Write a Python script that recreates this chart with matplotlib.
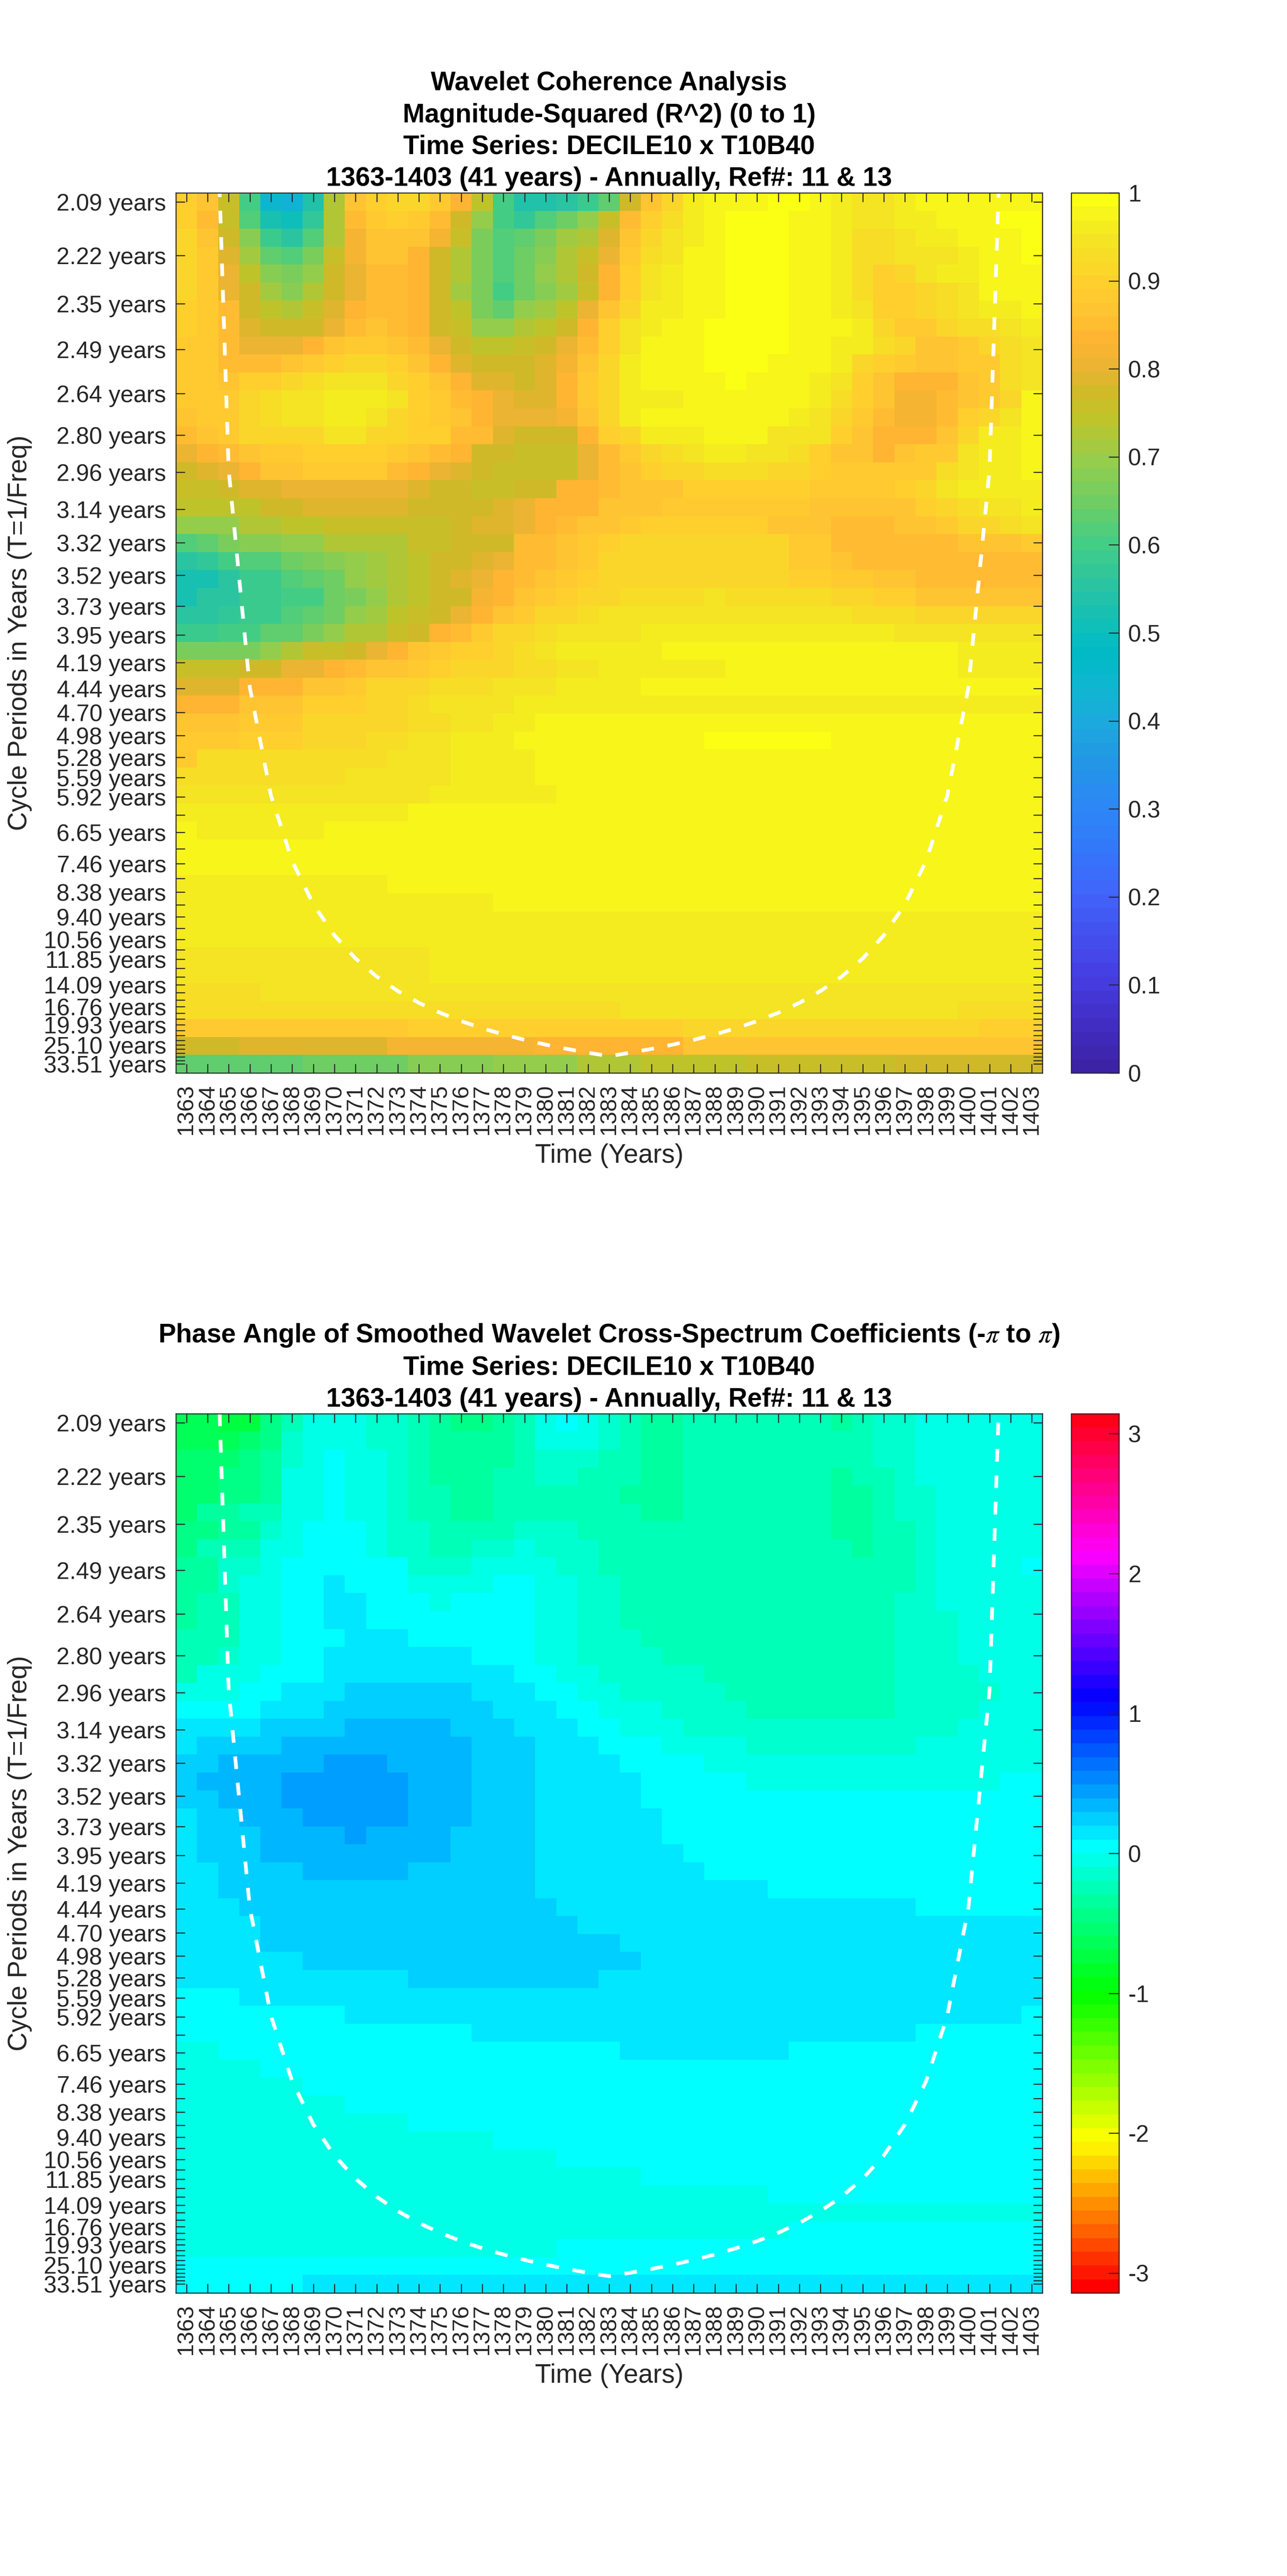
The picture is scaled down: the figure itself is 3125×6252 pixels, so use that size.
import numpy as np
import matplotlib
matplotlib.use("Agg")
import matplotlib.pyplot as plt
from matplotlib.colors import LinearSegmentedColormap, ListedColormap, hsv_to_rgb

plt.rcParams['font.family'] = ['Liberation Sans', 'DejaVu Sans']
plt.rcParams['mathtext.fontset'] = 'stix'

years = list(range(1363, 1404))
periods = [2.09,2.22,2.35,2.49,2.64,2.80,2.96,3.14,3.32,3.52,3.73,3.95,4.19,4.44,4.70,4.98,5.28,5.59,5.92,6.27,
           6.65,7.05,7.46,7.91,8.38,8.88,9.40,9.96,10.56,11.19,11.85,12.56,13.30,14.09,14.93,15.82,16.76,17.76,
           18.81,19.93,21.12,22.37,23.70,25.10,26.60,28.18,29.86,31.63,33.51]
unlabelled = [6.27,7.05,7.91,8.88,9.96,11.19,12.56,13.30,14.93,15.82,17.76,18.81,21.12,22.37,23.70,26.60,28.18,29.86,31.63]

coi_years = list(range(1364, 1403))
coi_period = [1.48,2.95,4.43,5.90,7.38,8.85,10.33,11.80,13.28,14.75,16.23,17.70,19.18,20.65,22.13,23.60,25.08,26.55,28.03,29.50,
              28.03,26.55,25.08,23.60,22.13,20.65,19.18,17.70,16.23,14.75,13.28,11.80,10.33,8.85,7.38,5.90,4.43,2.95,1.48]

# Coherence x100, one row per period (top to bottom), one value per year
coherence_pct = [
 [90,87,75,60,44,43,54,73,86,90,91,91,88,84,74,60,54,54,55,58,63,77, 87,92,96,97.5,97.5,98,100,100,97,96.5,95,95,96,97,98,98,98,98,98],
 [90,85,75,62,52,50,57,73,85,89,90,88,85,78,69,60,57,62,65,69,75,85, 90,93,96,97.5,100,100,100,98,97,95.5,94,94.5,96.5,96.5,98,98,98,100,100],
 [91,87,77,68,58,56,62,73,82,87,87,86,82,75,66,61,63,66,71,73,79,87, 92,94,96,97.5,100,100,100,98,97,95.5,92.5,93,94.5,96.5,96.5,98,98,98,100],
 [91,88,79,71,64,62,66,75,82,86,86,84,78,72,66,62,65,68,72,75,81,89, 92.5,94.5,97.5,97.5,100,100,100,98,97,95.5,92.5,92.5,94.5,95,95,96.5,98,98,100],
 [91,88,81,74,68,66,70,77,81,85,85,83,78,73,66,61,65,70,73,77,83,90, 94,96.5,97.5,98,100,100,100,98,97,95.5,92.5,90,92,94,95.5,96.5,97.5,98,98],
 [91,88,81,77,71,68,72,77,81,85,85,83,78,71,66,60,65,68,71,75,83,90, 94,96.5,97.5,98,100,100,100,98,98,95.5,92.5,90,90.5,92,93.5,94.5,97.5,98,98],
 [90,88,85,78,74,72,75,79,84,85,85,83,78,74,66,64,69,71,74,80,87,91, 95.5,96.5,97.5,98,100,100,100,98,98,95.5,94,90,90.5,92,93.5,94.5,96,96.5,97.5],
 [90,88,85,79,77,77,77,81,85,87,85,83,78,76,70,70,73,74,77,84,90,94, 95.5,98,98,100,100,100,100,98,98,97.5,95.5,91,89,89,91,92.5,93.5,94.5,95.5],
 [88,88,85,81,81,81,84,87,89,89,87,85,81,77,74,74,76,77,80,85,90,95, 97,98,98,100,100,100,100,98,97,96.5,95.5,93,91,87,87,89,91,93.5,94.5],
 [88,88,85,85,85,87,88,90,91,91,90,86,83,79,77,77,77,79,82,87,92,96.5, 97,98,98,100,100,100,98,98,97,95.5,92,90,88,87,87,88,89,92.5,94.5],
 [88,88,87,90,90,91,93,94,94,94,92,90,87,84,79,79,78,79,84,88,92,96.5, 97,98,98,98,100,98,98,98,95.5,95,90,86,84,84,84,87,89,92.5,94.5],
 [88,89,89,91,93,94,94,96,96,96,94,90,88,85,84,81,79,79,84,88,92,95.5, 95.5,96.5,98,98,98,98,98,97,95.5,93,90,86,82,82,85,87,89,92,97],
 [87,89,89,91,93,94,94.5,96.5,96.5,95,92,90,89,87,84,80,80,80,82,86,91,95.5, 97,97.5,97.5,98,98,98,97,96,95,92,89,85,82,82,85,90,92,94.5,97.5],
 [85,87,89,91,91,92,92,94,94,92,92,90,90,85,85,79,78,78,78,83,90,92, 95.5,95.5,95.5,97,97,97,95,94.5,94.5,90,87,84,84,84,87,92,95.5,96.5,97.5],
 [80,83,85,87,88,88,90,90,90,90,88,87,85,84,78,78,76,76,76,81,85,88, 92,93.5,94.5,95.5,95.5,94.5,94.5,93.5,90,87,87,84,87,89,89,94.5,95.5,96.5,97.5],
 [78,79,81,84,86,86,88,88,88,88,85,83,81,79,77,75,76,76,76,81,85,87, 90,91,91,93.5,93.5,93.5,92,92,90,87.5,87.5,87.5,87.5,89,93.5,94.5,95.5,96.5,97.5],
 [76,76,78,79,79,81,81,81,81,81,81,79,78,78,76,76,78,78,83,84,85,87, 87,87,90,90,90,90,90,90,89,89,87.5,87.5,90,92,94.5,95.5,96.5,96.5,96.5],
 [74,74,74,74,77,77,79,79,79,79,79,77,77,77,77,79,81,83,84,84,86,86, 86,88,88,88,88,88,88,88,87,87,87,87,87,90,92,93,94.5,94.5,95.5],
 [70,70,70,72,72,74,74,76,76,76,76,76,76,77,79,79,81,84,85,87,87,88, 90,90,90,90,90,90,87,87,87,85,85,85,87,87,89,91,92,93,94.5],
 [62,64,66,68,68,70,70,72,72,73,73,76,76,77,78,78,85,85,87,89,90,91]+[91]*7+[89,89]+[85]*6+[87]*3+[89],
 [55,57,60,61,62,65,66,68,70,71,73,74,77,77,79,81,85,85,87,89,91,91]+[91]*7+[89,89,87]+[85]*9,
 [52,53,56,58,59,62,63,65,70,71,73,74,78,79,81,83,85,87,89,90,91,92]+[91.5]*7+[90,90,89,89,87,87]+[85]*6,
 [53,55,55,58,59,60,60,65,67,69,72,74,77,78,82,84,87,89,90,91,92,93]+[93]*3+[94.5]+[93]*5+[91,91,90,90]+[87]*3+[86]*3,
 [55,55,57,59,59,62,63,65,69,71,74,76,78,80,84,86,89,91,92,93,94.5,94.5]+[94.5]*10+[93.5]*3+[92]*6,
 [59,59,60,60,63,64,66,70,72,73,75,78,83,85,89,91,91,93,94,95,95,95]+[95.5]*12+[94.5]*7,
 [67,67,67,67,70,72,75,76,78,80,83,86,88,90,90,92,93.5,94.5,95.5,95.5,96.5,96.5]+[96.5]+[97]*14+[96]*4,
 [76]*3+[77,78,80,81,84,85,86,87,89,90,91,92,92,93,93.5,94.5,94.5]+[95.5]*6+[97]*11+[96.5]*4,
 [79]*3+[84]*3+[86,86,88,91,91,92,93,93,93,94.5,94.5,94.5]+[95.5]*4+[97]*19,
 [83]*3+[86]*3+[90]*3+[91,92,93]+[94]*4+[95.5]*3+[96.5]*22,
 [87]*3+[88]*3+[91]*4+[92,93.5,93.5,94.5,94.5,96,96]+[97.5]*10+[98]*7+[97.5]*7,
 [88]*3+[90]*3+[91.5]*3+[92.5]*2+[94.5]*2+[96.5]*3+[98]*9+[100]*6+[98]*10,
 [89]+[92.5]*9+[94.5]*3+[96.5]*4+[97.5]*24,
 [93]*8+[94.5]*5+[96.5]*4+[97.5]*24,
 [94.5]*6+[95]*6+[96.5]*6+[97.5]*23,
 [95.5]*11+[97]*8+[97.5]*22,
 [97.5]+[95.5]*6+[97]*34,
 [97.5]*21+[98]*20,
 [97.5]*24+[98]*17,
 [95.5]*10+[97]*31,
 [95.5]*15+[97]*26,
 [95.5]*20+[96.5]*21,
 [95.5]*27+[96.5]*7+[95.5]*7,
 [94.5]*12+[95.5]*29,
 [94.5]*12+[95.5]*29,
 [93]*4+[94.5]*16+[95]*15+[94]*6,
 [92.5]*6+[93.5]*15+[94.5]*16+[93]*4,
 [88.5]+[89]*10+[90.5]*13+[91.5]*14+[90]*3,
 [77]*3+[79]*7+[82]*7+[84]*7+[86]*17,
 [63]*6+[65]*5+[68]*4+[70]*4+[72]*3+[74]*5+[76]*7+[77]*7,
]

# Phase read as colour-band offsets from the zero band (one band = 2*pi/64 rad)
phase_band = [
 [-7]*2+[-8]*2+[-5,-3]+[-1]*3+[-2]*2+[-3,-4]+[-5]*2+[-4,-3,-1,0,-1,-2,-3]+[-4]*2+[-3]*7+[-4,-3]+[-2]*2+[-1]*6,
 [-7]*3+[-6,-5,-2]+[-1]*3+[-2]*2+[-3]+[-4]*4+[-3,-1,-1,-1,-2,-3]+[-4]*2+[-3]*9+[-2]*2+[-1]*6,
 [-6]*3+[-5,-4,-2,-1,0]+[-1]*2+[-2,-3]+[-4]*4+[-3]+[-2]*3+[-3]*2+[-4]*2+[-3]*9+[-2]*2+[-1]*6,
 [-6]*2+[-5]*2+[-4]+[-1]*2+[0]+[-1]*2+[-2,-3]+[-4]*3+[-3]*2+[-2]*2+[-3]*3+[-4]*2+[-3]*7+[-4]+[-3]*2+[-2]+[-1]*6,
 [-6]*2+[-5]*2+[-4]+[-1]*2+[0]+[-1]*2+[-2]+[-3]*2+[-4]*2+[-3]*6+[-4]+[-4]*2+[-3]*7+[-4]*2+[-3]+[-2]*2+[-1]*5,
 [-6]+[-4]*2+[-3]*2+[-1]*2+[0]+[-1]*2+[-2]+[-3]*2+[-4]*2+[-3]*6+[-3]+[-4]*2+[-3]*7+[-4]*2+[-3]+[-2]*2+[-1]*5,
 [-5]*2+[-4]*2+[-2,-1]+[0]*3+[-1]+[-2]*2+[-3]*4+[-2]*3+[-3]*12+[-4]*2+[-3]*2+[-2]+[-1]*5,
 [-5]+[-3]*3+[-1]*2+[0]*3+[-1]+[-2]*2+[-3]*2+[-2]*2+[-1]+[-2]*3+[-3]*12+[-4]+[-3]*2+[-2]+[-1]*5,
 [-4]*2+[-2]*2+[-1]+[0]*6+[-2]*3+[-1]*4+[-2,-2]+[-3]*15+[-2]+[-1]*4+[0],
 [-4]*2+[-2]+[-1]*2+[0]*2+[1]+[0]*3+[-1]*4+[0]*2+[-1]*2+[-2]*2+[-3]*14+[-2]+[-1]*5,
 [-4]+[-3]*2+[-1]*2+[0]*2+[1]*2+[0]*3+[-1]+[0]*4+[-1]*2+[-2]*2+[-3]*13+[-2]*2+[-1]*5,
 [-4]+[-3]*2+[-1]*2+[0]*2+[1]*2+[0]*8+[-1]*2+[-2]*2+[-3]*13+[-2]*3+[-1]*4,
 [-3]*3+[-1]*2+[0]*3+[1]*3+[0]*6+[-1]*2+[-2]*3+[-3]*12+[-2]*3+[-1]*4,
 [-3]*2+[-2]+[-1]*2+[0]*2+[1]*7+[0]*3+[-1]*2+[-2]*4+[-3]*11+[-2]*3+[-1]*4,
 [-3]+[-1]*3+[0]*3+[1]*9+[0]*2+[-1]*2+[-2]*5+[-3]*9+[-2]*4+[-1]*3,
 [-1]*3+[0]*2+[1]*3+[2]*6+[1]*3+[0]*2+[-1]*2+[-2]*5+[-3]*8+[-2]*5+[-1]*2,
 [0]*4+[1]*3+[2]*8+[1]*3+[0]*2+[-1]*3+[-2]*4+[-3]*7+[-2]*4+[-1]*3,
 [1]*4+[2]*4+[3]*5+[2]*3+[1]*3+[0]*2+[-1]*3+[-2]*13+[-1]*4,
 [1]+[2]*4+[3]*9+[2]*3+[1]*3+[0]*3+[-1]*4+[-2]*8+[-1]*6,
 [2]*2+[3]*5+[4]*3+[3]*4+[2]*3+[1]*4+[0]*4+[-1]*16,
 [2]+[3]*4+[4]*6+[3]*3+[2]*3+[1]*5+[0]*5+[-1]*12+[0]*2,
 [2]*2+[3]*3+[4]*6+[3]*3+[2]*3+[1]*5+[0]*19,
 [1]+[2]*2+[3]*3+[4]*5+[3]*3+[2]*3+[1]*6+[0]*18,
 [1]+[2]*3+[3]*4+[4]+[3]*4+[2]*4+[1]*6+[0]*18,
 [1]+[2]*3+[3]*9+[2]*4+[1]*7+[0]*17,
 [1]*2+[2]*4+[3]*5+[2]*6+[1]*8+[0]*16,
 [1]*2+[2]*15+[1]*11+[0]*13,
 [1]*3+[2]*15+[1]*17+[0]*6,
 [1]*4+[2]*15+[1]*22,
 [1]*4+[2]*17+[1]*20,
 [1]*6+[2]*16+[1]*19,
 [1]*11+[2]*9+[1]*21,
 [0]*3+[1]*38,
 [0]*8+[1]*32+[0],
 [0]*14+[1]*21+[0]*6,
 [-1]*2+[0]*19+[1]*8+[0]*12,
 [-1]*4+[0]*37,
 [-1]*6+[0]*35,
 [-1]*8+[0]*33,
 [-1]*11+[0]*30,
 [-1]*15+[0]*26,
 [-1]*18+[0]*23,
 [-1]*22+[0]*19,
 [-1]*28+[0]*13,
 [-1]*41,
 [-1]*29+[0]*12,
 [-1]*18+[0]*23,
 [0]*41,
 [0]*6+[1]*35,
]

parula_anchor_pos = [0,.05,.1,.2,.25,.3,.35,.4,.45,.47,.5,.55,.6,.65,.7,.75,.78,.8,.84,.87,.905,.952,.968,.984,1]
parula_anchor_rgb = [(60,35,165),(65,45,195),(70,60,225),(65,100,250),(50,120,250),(45,135,245),(35,150,230),(28,170,220),
                     (10,185,205),(0,185,200),(10,190,190),(40,195,165),(65,205,135),(110,205,100),(150,205,75),(195,195,40),
                     (210,185,40),(230,180,50),(255,180,50),(255,195,50),(255,208,45),(244,228,36),(245,236,32),(247,245,27),(250,255,20)]
cmap_top = LinearSegmentedColormap.from_list('parula64', [(p, tuple(c/255 for c in rgb)) for p, rgb in zip(parula_anchor_pos, parula_anchor_rgb)], N=64)
cmap_phase = ListedColormap([hsv_to_rgb((k/64, 1, 1)) for k in range(64)])

W, H = 3125, 6252
GREY = '#262626'
fig = plt.figure(figsize=(W/100, H/100), dpi=100, facecolor='white')

TICK_FS, LABEL_FS = 40, 46
f0, fN = 1/periods[0], 1/periods[-1]
def period_to_row(T):
    return (len(periods)-1)*(f0-1/np.asarray(T, float))/(f0-fN)

def panel(top, bottom, data, cmap, vmin, vmax, title, cticks):
    ax = fig.add_axes([427/W, 1-bottom/H, 2104/W, (bottom-top)/H])
    im = ax.imshow(data, cmap=cmap, vmin=vmin, vmax=vmax, aspect='auto', interpolation='nearest',
                   extent=[years[0]-.5, years[-1]+.5, len(periods)-.5, -.5])
    ax.plot(coi_years, period_to_row(coi_period), color='white', lw=6.5, dashes=(3.4, 3.7), dash_capstyle='butt')
    ax.set_xlim(years[0]-.5, years[-1]+.5)
    ax.set_ylim(len(periods)-.5, -.5)
    ax.set_xticks(years)
    ax.set_xticklabels([str(y) for y in years], rotation=90, fontsize=TICK_FS, color=GREY)
    ax.set_yticks(period_to_row(periods))
    ax.set_yticklabels(['' if T in unlabelled else f'{T:.2f} years' for T in periods], fontsize=TICK_FS+1, color=GREY)
    ax.tick_params(axis='x', direction='in', length=16, width=1.8, top=True, pad=19, color=GREY)
    ax.tick_params(axis='y', direction='in', length=16, width=1.8, right=True, pad=17, color=GREY)
    for s in ax.spines.values():
        s.set_linewidth(1.8); s.set_color(GREY)
    ax.set_xlabel('Time (Years)', fontsize=LABEL_FS, color=GREY, va='center')
    ax.xaxis.set_label_coords(.5, -.094)
    ax.set_ylabel('Cycle Periods in Years (T=1/Freq)', fontsize=LABEL_FS, color=GREY, va='center')
    ax.yaxis.set_label_coords(-.18, .5)
    ax.set_title(title, fontsize=46, fontweight='bold', color='black', linespacing=1.37, pad=12)
    cax = fig.add_axes([2601/W, 1-bottom/H, 116/W, (bottom-top)/H])
    cb = fig.colorbar(im, cax=cax)
    cb.set_ticks(cticks)
    cb.set_ticklabels([f'{t:g}' for t in cticks])
    cax.tick_params(direction='in', length=18, width=1.8, pad=16, labelsize=TICK_FS+1, color=GREY, labelcolor=GREY)
    cb.outline.set_linewidth(1.8); cb.outline.set_edgecolor(GREY)
    return ax

panel(468, 2604, np.array(coherence_pct, float)/100, cmap_top, 0, 1,
      'Wavelet Coherence Analysis\nMagnitude-Squared (R^2) (0 to 1)\nTime Series: DECILE10 x T10B40\n1363-1403 (41 years) - Annually, Ref#: 11 & 13',
      [0,.1,.2,.3,.4,.5,.6,.7,.8,.9,1])
panel(3431, 5565, (np.array(phase_band, float)+.5)*2*np.pi/64, cmap_phase, -np.pi, np.pi,
      'Phase Angle of Smoothed Wavelet Cross-Spectrum Coefficients (-$\\pi$ to $\\pi$)\nTime Series: DECILE10 x T10B40\n1363-1403 (41 years) - Annually, Ref#: 11 & 13',
      [-3,-2,-1,0,1,2,3])
fig.savefig('out.png', dpi=100)
